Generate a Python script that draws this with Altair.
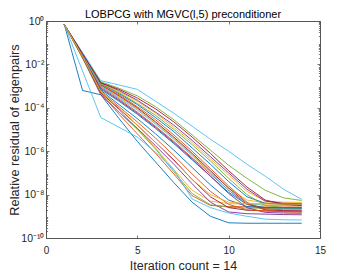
import altair as alt
import pandas as pd

# ---------------- data ----------------
iterations = list(range(1, 15))
series_names = [f"eig{i:02d}" for i in range(1, 25)]
# -log10(relative residual) of each eigenpair at iterations 1..14
neglog_residual = [
    [0.16, 3.20, 3.40, 4.50, 5.55, 6.50, 7.45, 8.35, 9.00, 9.30, 9.32, 9.32, 9.32, 9.32],
    [0.16, 1.62, 3.32, 4.30, 5.20, 6.10, 7.05, 8.05, 8.50, 8.55, 8.56, 8.57, 8.57, 8.57],
    [0.16, 1.70, 3.30, 4.10, 4.95, 5.85, 6.85, 7.80, 8.30, 8.42, 8.43, 8.43, 8.43, 8.43],
    [0.16, 1.70, 3.40, 4.20, 4.95, 5.75, 6.60, 7.50, 8.35, 8.80, 8.88, 8.90, 8.92, 8.93],
    [0.16, 1.68, 3.35, 4.20, 5.00, 5.90, 6.95, 7.95, 8.47, 8.58, 8.62, 8.63, 8.63, 8.63],
    [0.16, 2.30, 4.45, 4.90, 5.35, 6.05, 6.85, 8.20, 8.60, 8.85, 9.00, 9.13, 9.16, 9.17],
    [0.16, 1.66, 3.30, 4.05, 4.80, 5.60, 6.40, 7.30, 8.10, 8.60, 8.72, 8.75, 8.76, 8.76],
    [0.16, 1.62, 3.15, 3.70, 4.30, 4.95, 5.65, 6.40, 7.15, 7.90, 8.45, 8.60, 8.62, 8.63],
    [0.16, 1.60, 3.05, 3.60, 4.20, 4.85, 5.55, 6.30, 7.05, 7.80, 8.45, 8.65, 8.70, 8.70],
    [0.16, 1.58, 3.00, 3.50, 4.05, 4.70, 5.40, 6.15, 6.95, 7.70, 8.25, 8.38, 8.40, 8.40],
    [0.16, 1.60, 3.10, 3.65, 4.25, 4.90, 5.60, 6.35, 7.15, 7.95, 8.60, 8.82, 8.85, 8.86],
    [0.16, 1.50, 2.80, 3.10, 3.45, 3.95, 4.55, 5.25, 5.95, 6.65, 7.25, 7.80, 8.15, 8.27],
    [0.16, 1.45, 2.75, 2.95, 3.15, 3.70, 4.25, 4.85, 5.45, 6.00, 6.60, 7.15, 7.75, 8.22],
    [0.16, 1.57, 2.95, 3.45, 4.00, 4.65, 5.35, 6.10, 6.90, 7.70, 8.40, 8.70, 8.74, 8.75],
    [0.16, 1.55, 2.90, 3.35, 3.85, 4.45, 5.10, 5.85, 6.60, 7.40, 8.10, 8.40, 8.45, 8.45],
    [0.16, 1.56, 2.95, 3.40, 3.95, 4.55, 5.25, 6.00, 6.80, 7.60, 8.35, 8.72, 8.80, 8.80],
    [0.16, 1.52, 2.85, 3.25, 3.70, 4.25, 4.90, 5.60, 6.35, 7.10, 7.85, 8.30, 8.35, 8.36],
    [0.16, 1.53, 2.85, 3.20, 3.65, 4.20, 4.80, 5.50, 6.25, 7.00, 7.75, 8.30, 8.40, 8.42],
    [0.16, 1.55, 2.90, 3.30, 3.80, 4.35, 5.00, 5.70, 6.45, 7.25, 8.00, 8.50, 8.60, 8.60],
    [0.16, 1.57, 3.00, 3.55, 4.10, 4.75, 5.45, 6.20, 7.00, 7.80, 8.40, 8.50, 8.50, 8.50],
    [0.16, 1.50, 2.85, 3.15, 3.55, 4.05, 4.65, 5.35, 6.10, 6.90, 7.65, 8.25, 8.45, 8.50],
    [0.16, 1.60, 3.20, 3.85, 4.50, 5.20, 5.95, 6.75, 7.55, 8.25, 8.55, 8.60, 8.60, 8.60],
    [0.16, 1.62, 3.25, 3.95, 4.65, 5.40, 6.20, 7.05, 7.85, 8.45, 8.70, 8.75, 8.78, 8.80],
    [0.16, 1.64, 3.25, 4.00, 4.80, 5.60, 6.45, 7.30, 8.00, 8.35, 8.42, 8.43, 8.44, 8.44],
]

x_ticks = [0, 5, 10, 15]
x_domain = [0, 15]
y_ticks = [1, 1e-2, 1e-4, 1e-6, 1e-8, 1e-10]
y_tick_labels = ["10⁰", "10⁻²", "10⁻⁴", "10⁻⁶", "10⁻⁸", "10⁻¹⁰"]
y_domain = [1e-10, 1]
y_minor = [m * 10.0 ** (-k) for k in range(1, 11) for m in range(2, 10)]

title_text = "LOBPCG with MGVC(l,5) preconditioner"
x_title = "Iteration count = 14"
y_title = "Relative residual of eigenpairs"

matlab_colors = ["#0072BD", "#D95319", "#EDB120", "#7E2F8E", "#77AC30", "#4DBEEE", "#A2142F"]

# ---------------- build table ----------------
rows = []
for name, vals in zip(series_names, neglog_residual):
    for it, d in zip(iterations, vals):
        rows.append({"iter": it, "residual": 10.0 ** (-d), "series": name})
df = pd.DataFrame(rows)
title_df = pd.DataFrame({"t": [title_text]})

W, H = 274, 217
FONT = "Liberation Sans"
AX = "#262626"
FRAME = "#555555"

x_scale = alt.Scale(domain=x_domain, nice=False, zero=False)
y_scale = alt.Scale(type="log", domain=y_domain, nice=False)
color_range = [matlab_colors[i % len(matlab_colors)] for i in range(len(series_names))]

label_expr = "[" + ",".join(f"'{s}'" for s in y_tick_labels) + "][round(-log(datum.value)/LN10/2)]"

main = alt.Chart(df).mark_line(strokeWidth=0.9, clip=True).encode(
    x=alt.X("iter:Q", scale=x_scale, axis=alt.Axis(
        orient="bottom", values=x_ticks, ticks=False, domain=False, grid=False,
        labelPadding=7, labelFontSize=10, labelFlush=False, labelOverlap=False,
        title=x_title, titleFontSize=12.5, titleFontWeight="normal", titlePadding=4)),
    y=alt.Y("residual:Q", scale=y_scale, axis=alt.Axis(
        orient="left", values=y_ticks, ticks=False, domain=False, grid=False,
        labelExpr=label_expr, labelPadding=2, labelFontSize=10.5, labelFlush=False,
        labelOverlap=False,
        title=y_title, titleFontSize=12.8, titleFontWeight="normal",
        titleX=-25, titleY=H / 2, titleAnchor="middle")),
    color=alt.Color("series:N", scale=alt.Scale(domain=series_names, range=color_range), legend=None),
)


def ghost(xaxis, yaxis):
    return alt.Chart(df).mark_point(opacity=0, size=1).encode(
        x=alt.X("iter:Q", scale=x_scale, axis=xaxis),
        y=alt.Y("residual:Q", scale=y_scale, axis=yaxis),
    )


def tick_axis(orient, offset, values, size):
    return alt.Axis(orient=orient, offset=offset, values=values, tickSize=size,
                    labels=False, title=None, grid=False, domain=False,
                    tickColor=FRAME, tickWidth=0.8)


title_layer = alt.Chart(title_df).mark_text(
    fontSize=11, font=FONT, color="#000000", align="center", baseline="bottom"
).encode(text="t:N", x=alt.value(W / 2), y=alt.value(-1))

layers = [
    main,
    ghost(tick_axis("top", -H, x_ticks, 3), tick_axis("right", -W, y_ticks, 3)),
    ghost(tick_axis("bottom", -H, x_ticks, 3), tick_axis("left", -W, y_ticks, 3)),
    ghost(None, tick_axis("right", -W, y_minor, 1.6)),
    ghost(None, tick_axis("left", -W, y_minor, 1.6)),
    title_layer,
]

chart = alt.layer(*layers).resolve_axis(x="independent", y="independent").properties(
    width=W, height=H,
    autosize=alt.AutoSizeParams(type="none"),
    padding={"left": 38, "top": 13, "right": 26, "bottom": 35},
).configure(font=FONT).configure_axis(
    labelFont=FONT, titleFont=FONT, labelColor=AX, titleColor=AX,
).configure_view(stroke=FRAME, strokeWidth=1)

chart.save("out.html", embed_options={"renderer": "svg", "actions": False})
